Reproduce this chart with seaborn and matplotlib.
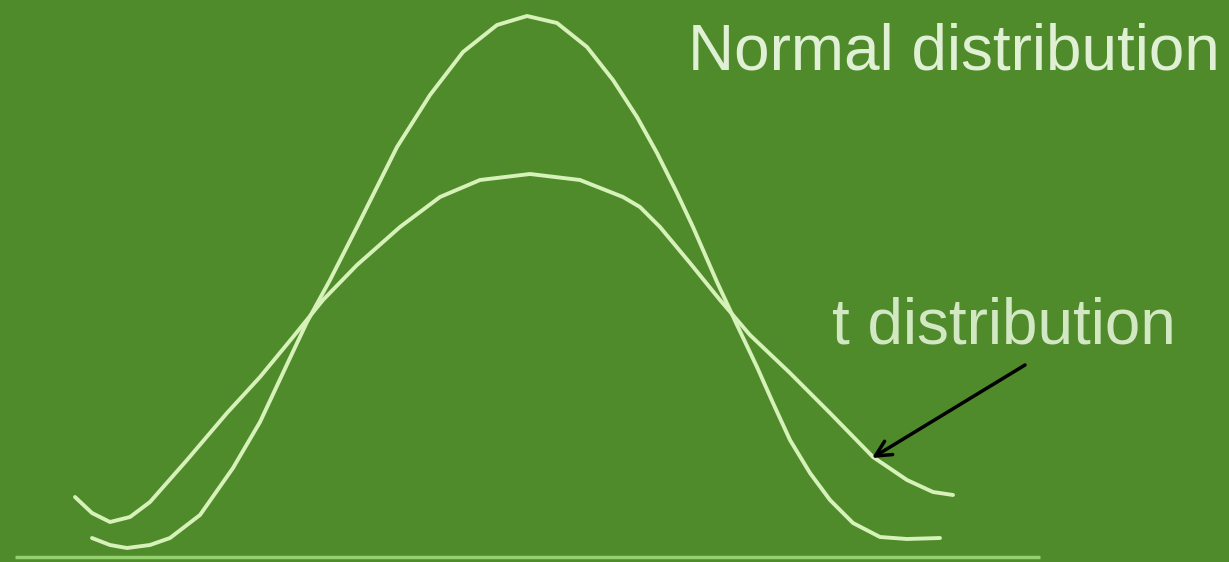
import numpy as np
import pandas as pd
import matplotlib
matplotlib.use("Agg")
import matplotlib.pyplot as plt
import seaborn as sns

# --- DATA ---
# x position along the axis, height above the baseline
normal_x = [92, 110, 127, 150, 170, 200, 233, 260, 290, 307, 330, 357, 383, 397,
            430, 463, 497, 527, 557, 587, 613, 637, 657, 677, 693, 717, 737, 757,
            773, 790, 810, 830, 853, 880, 907, 940]
normal_h = [19, 12, 9, 12, 19, 42, 89, 135, 199, 235, 277, 330, 382, 410,
            462, 505, 532, 541, 534, 510, 477, 440, 404, 364, 330, 275, 232, 190,
            154, 117, 84, 57, 34, 20, 18, 19]

t_x = [75, 92, 110, 130, 150, 187, 227, 260, 293, 323, 357, 400, 440, 480, 530,
       580, 623, 640, 660, 690, 720, 750, 790, 830, 873, 907, 933, 953]
t_h = [60, 44, 35, 40, 55, 97, 144, 180, 220, 257, 292, 330, 360, 377, 383,
       377, 360, 350, 330, 294, 257, 222, 184, 144, 100, 77, 65, 62]

labels = ["Normal distribution", "t distribution"]

BG = "#4f8a2b"
CURVE = "#d6f2b8"
BASE = "#93d16f"

df = pd.concat([
    pd.DataFrame({"x": normal_x, "h": normal_h, "dist": labels[0]}),
    pd.DataFrame({"x": t_x, "h": t_h, "dist": labels[1]}),
], ignore_index=True)

fig = plt.figure(figsize=(12.29, 5.62), dpi=100, facecolor=BG)
ax = fig.add_axes([0, 0, 1, 1])
ax.set_facecolor(BG)

sns.lineplot(data=df, x="x", y="h", hue="dist", palette=[CURVE, CURVE],
             sort=False, estimator=None, linewidth=2.8, legend=False, ax=ax,
             solid_joinstyle="round", solid_capstyle="round")

# baseline
ax.hlines(0, 15, 1040, color=BASE, linewidth=2.5)

# labels
ax.text(688, 487, labels[0], ha="left", va="baseline", fontsize=46,
        family="Liberation Sans", color="#e0f0d4")
ax.text(832, 213, labels[1], ha="left", va="baseline", fontsize=46,
        family="Liberation Sans", color="#d2e8c2")

# arrow pointing at the t curve tail
ax.annotate("", xy=(872, 99), xytext=(1025, 192),
            arrowprops=dict(arrowstyle="->", color="black", lw=2.5,
                            mutation_scale=28, shrinkA=0, shrinkB=0))

ax.set_xlim(0, 1229)
ax.set_ylim(-5, 557)
ax.axis("off")

fig.savefig("out.png", dpi=100, facecolor=BG)
plt.close(fig)
